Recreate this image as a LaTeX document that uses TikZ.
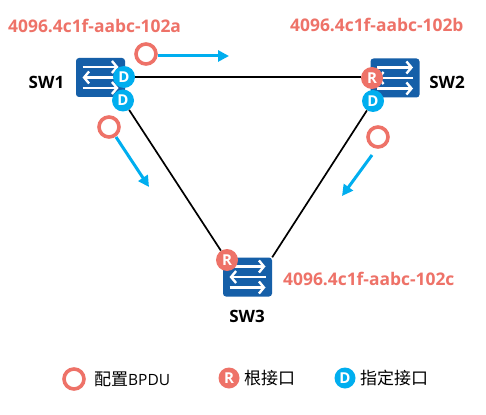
\documentclass[tikz,border=0pt]{standalone}
\usepackage{fontspec}
\setmainfont{Open Sans}
\newfontfamily\cjk{Noto Sans CJK SC}
\usetikzlibrary{arrows.meta}
\definecolor{coral}{HTML}{EE7268}
\definecolor{sky}{HTML}{00AEEF}
\definecolor{swblue}{HTML}{155FA8}
\tikzset{
  switchbox/.style={fill=swblue,rounded corners=3pt,minimum width=49pt,minimum height=39pt,inner sep=0pt},
  rport/.style={circle,fill=coral,minimum size=22pt,inner sep=0pt,text=white,font=\fontsize{15}{15}\selectfont\bfseries},
  dport/.style={circle,fill=sky,minimum size=22pt,inner sep=0pt,text=white,font=\fontsize{15}{15}\selectfont\bfseries},
  ring/.style={circle,draw=coral,line width=3.6pt,fill=white,minimum size=20pt,inner sep=0pt},
  link/.style={draw=black,line width=1.7pt},
  flow/.style={draw=sky,line width=3pt,-{Triangle[length=11pt,width=11pt]}},
  wire/.style={draw=white,line width=2.4pt,-{Straight Barb[length=5pt,width=12pt,line width=2.4pt]}},
  addr/.style={text=coral,font=\fontsize{17.4}{17.4}\selectfont\bfseries,inner sep=0pt},
  swname/.style={text=black,font=\fontsize{17}{17}\selectfont\bfseries,inner sep=0pt},
  legend/.style={text=black,font=\fontsize{15.5}{16}\selectfont,inner sep=0pt,anchor=west},
  legendcjk/.style={font=\fontsize{17}{17}\selectfont\cjk}
}
\begin{document}
\begin{tikzpicture}[x=1pt,y=-1pt]
\useasboundingbox (0,0) rectangle (486,414);
\fill[white] (0,0) rectangle (486,414);
% switches
\node[switchbox] (sw1) at (100.5,77.5) {};
\node[switchbox] (sw2) at (395,78) {};
\node[switchbox] (sw3) at (247.5,277) {};
% arrow glyphs inside the switches
\foreach \s/\sx/\sy in {sw1/100.5/77.5,sw2/395/78,sw3/247.5/277}{
  \coordinate (\s a) at (\sx-18,\sy-10.5);
  \coordinate (\s b) at (\sx+18,\sy-10.5);
  \coordinate (\s c) at (\sx+18,\sy);
  \coordinate (\s d) at (\sx-18,\sy);
  \coordinate (\s e) at (\sx-18,\sy+10.5);
  \coordinate (\s f) at (\sx+18,\sy+10.5);
  \draw[wire] (\s a) -- (\s b);
  \draw[wire] (\s c) -- (\s d);
  \draw[wire] (\s e) -- (\s f);
}
% ports
\node[dport] (p1a) at (124,77) {D};
\node[dport] (p1b) at (123,100.5) {D};
\node[rport] (p2a) at (372,78) {R};
\node[dport] (p2b) at (373,101) {D};
\node[rport] (p3a) at (227,260) {R};
% links
\draw[link] (p1a) -- (p1a -| p2a.west);
\draw[link] (p1b) -- (p3a);
\draw[link] (p2b) -- (sw3.north east);
% BPDU rings and flows
\node[ring] (b1) at (146,54) {};
\node[ring] (b2) at (109,127) {};
\node[ring] (b3) at (378,137) {};
\coordinate (e1) at (229,56);
\coordinate (e2) at (149,187);
\coordinate (e3) at (342,196);
\draw[flow] (b1.east |- e1) -- (e1);
\draw[flow] (b2) ++(7,10) coordinate (s2) (s2) -- (e2);
\draw[flow] (b3) ++(-6,18) coordinate (s3) (s3) -- (e3);
% labels
\node[addr,anchor=west] (t1) at (8,26) {4096.4c1f-aabc-102a};
\node[addr,anchor=west] (t2) at (290,25) {4096.4c1f-aabc-102b};
\node[addr,anchor=west] (t3) at (283,279) {4096.4c1f-aabc-102c};
\node[swname] (n1) at (46.5,82) {SW1};
\node[swname] (n2) at (447,82) {SW2};
\node[swname] (n3) at (247,316) {SW3};
% legend
\node[ring] (l1) at (74,379) {};
\node[legend] (lt1) at (94,379) {{\fontsize{17}{17}\selectfont\cjk 配置}BPDU};
\node[rport,minimum size=21pt] (l2) at (229,378) {R};
\node[legend,legendcjk] (lt2) at (244,378) {根接口};
\node[dport,minimum size=21pt] (l3) at (345,378) {D};
\node[legend,legendcjk] (lt3) at (360,378) {指定接口};
\end{tikzpicture}
\end{document}
